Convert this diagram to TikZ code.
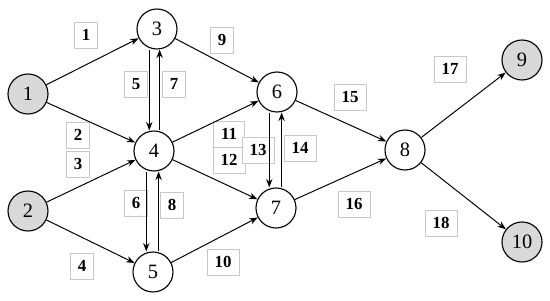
\documentclass[tikz,border=0pt]{standalone}
\usepackage{fontspec}
\setmainfont{Liberation Serif}
\usetikzlibrary{positioning, arrows.meta}
\definecolor{nodegray}{RGB}{217,217,217}
\definecolor{boxgray}{RGB}{200,200,200}

\begin{document}
\begin{tikzpicture}[
        x=0.025cm, y=-0.025cm,
        vertex/.style={circle, draw=black, thick, fill=white, minimum size=1cm,
                       inner sep=0pt, font=\fontsize{14.5}{16}\selectfont},
        terminal/.style={vertex, fill=nodegray},
        wbox/.style={rectangle, draw=boxgray, fill=white, line width=0.5pt,
                     minimum height=0.65cm, inner xsep=5.4pt,
                     font=\bfseries\fontsize{12}{14}\selectfont},
        arr/.style={-{Stealth[length=6pt, width=4.5pt]}, line width=0.7pt, black},
    ]
    \useasboundingbox (0,0) rectangle (550,301);

    % ---- Arc weight boxes (drawn first, lines go over them) ----
    \foreach \i/\x/\y in {1/86/35, 2/78/135, 3/78/164, 4/82/266, 5/136/84,
                          6/136/203, 7/174/84, 8/172/205, 9/222/40, 10/223/262,
                          11/229/134, 12/229/160, 13/258/150, 14/300/148,
                          15/350/97, 16/354/204, 17/450/69, 18/441/223} {
        \node[wbox] (W\i) at (\x,\y) {\i};
    }

    % ---- Vertices ----
    \node[terminal] (N1) at (28,94) {1};
    \node[terminal] (N2) at (28,211) {2};
    \node[vertex] (N3) at (157,29) {3};
    \node[vertex] (N4) at (154,151) {4};
    \node[vertex] (N5) at (153,272) {5};
    \node[vertex] (N6) at (277,92) {6};
    \node[vertex] (N7) at (276,208) {7};
    \node[vertex] (N8) at (405,150) {8};
    \node[terminal] (N9) at (522,60) {9};
    \node[terminal] (N10) at (522,242) {10};

    % ---- Forward arcs ----
    \foreach \a/\b in {1/3, 1/4, 2/4, 2/5, 3/6, 4/6, 4/7, 5/7, 6/8, 7/8, 8/9, 8/10} {
        \draw[arr] (N\a) -- (N\b);
    }

    % ---- Paired vertical arcs (down on the left, up on the right) ----
    \foreach \u/\v in {3/4, 4/5, 6/7} {
        \draw[arr] ([xshift=-5.5pt]N\u.south) -- ([xshift=-5.5pt]N\u.south |- N\v.north);
        \draw[arr] ([xshift=4pt]N\v.north) -- ([xshift=4pt]N\v.north |- N\u.south);
    }

    \end{tikzpicture}
\end{document}
